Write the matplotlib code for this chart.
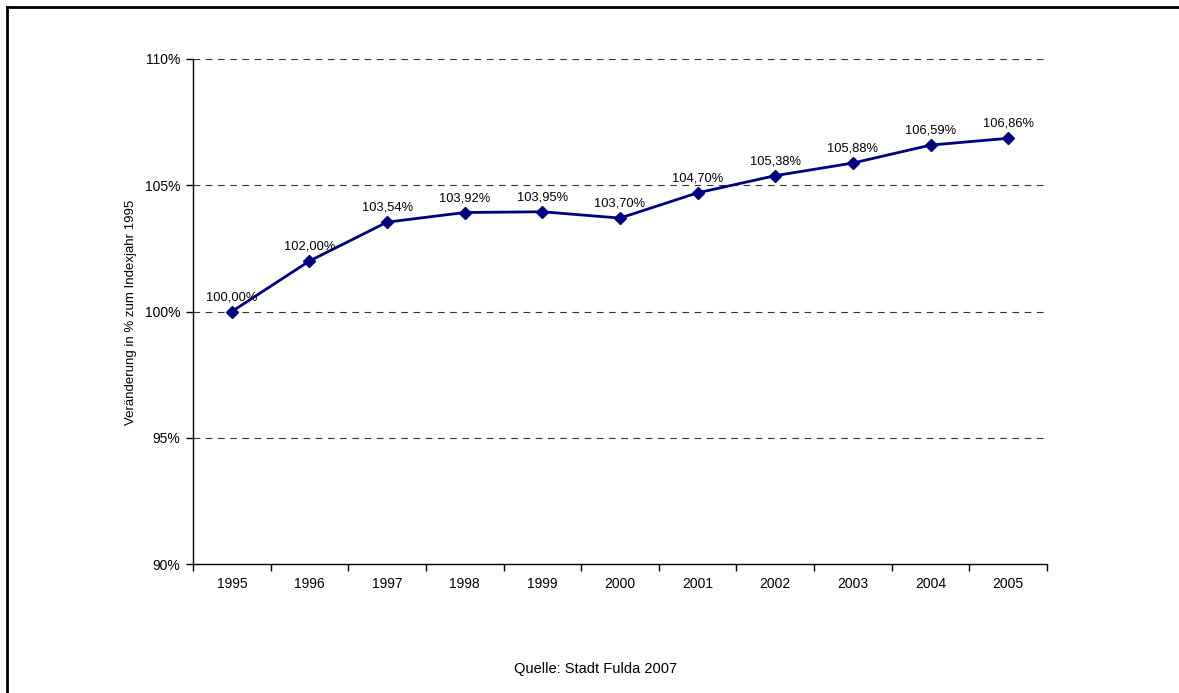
import matplotlib
matplotlib.use("Agg")
import matplotlib.pyplot as plt
from matplotlib.lines import Line2D
from matplotlib.ticker import FuncFormatter

plt.rcParams['font.family'] = ['Liberation Sans', 'DejaVu Sans']

# Daten
jahre = ["1995", "1996", "1997", "1998", "1999", "2000", "2001", "2002", "2003", "2004", "2005"]
werte = [100.00, 102.00, 103.54, 103.92, 103.95, 103.70, 104.70, 105.38, 105.88, 106.59, 106.86]
y_ticks = [90, 95, 100, 105, 110]

fig = plt.figure(figsize=(11.79, 6.93), dpi=100)
ax = fig.add_axes([193 / 1179, 1 - 564 / 693, (1047 - 193) / 1179, (564 - 59) / 693])

x = list(range(len(jahre)))
ax.plot(x, werte, color='#000080', linewidth=2, marker='D', markersize=6, zorder=3)

for xi, v in zip(x, werte):
    text = f"{v:.2f}%".replace('.', ',')
    ax.annotate(text, (xi, v), xytext=(0, 6), textcoords='offset points',
                ha='center', va='bottom', fontsize=9.3)

ax.set_xlim(-0.5, len(jahre) - 0.5)
ax.set_ylim(90, 110)
ax.set_yticks(y_ticks)
ax.yaxis.set_major_formatter(FuncFormatter(lambda v, p: f"{v:.0f}%"))

# Kategorien zwischen den Teilstrichen
ax.set_xticks(x)
ax.set_xticklabels(jahre)
ax.set_xticks([i - 0.5 for i in range(len(jahre) + 1)], minor=True)
ax.tick_params(axis='x', which='major', length=0, pad=9, labelsize=10)
ax.tick_params(axis='x', which='minor', length=5, direction='out', width=1)
ax.tick_params(axis='y', length=5, direction='out', width=1, labelsize=10, pad=4)

for v in y_ticks[1:]:
    ax.axhline(v, color='#333333', linestyle=(0, (6, 5)), linewidth=0.8, zorder=1)

ax.spines['top'].set_visible(False)
ax.spines['right'].set_visible(False)
ax.spines['left'].set_linewidth(1)
ax.spines['bottom'].set_linewidth(1)

fig.text(131 / 1179, 1 - 312 / 693, "Veränderung in % zum Indexjahr 1995",
         rotation=90, ha='center', va='center', fontsize=9.5)
fig.text(596 / 1179, 1 - 669 / 693, "Quelle: Stadt Fulda 2007",
         ha='center', va='center', fontsize=10.5)

# Rahmen oben und links
fig.add_artist(Line2D([7 / 1179, 7 / 1179], [0, 1 - 7 / 693], transform=fig.transFigure,
                      color='black', linewidth=2))
fig.add_artist(Line2D([7 / 1179, 1], [1 - 7 / 693, 1 - 7 / 693], transform=fig.transFigure,
                      color='black', linewidth=2))

fig.savefig("out.png", dpi=100)
